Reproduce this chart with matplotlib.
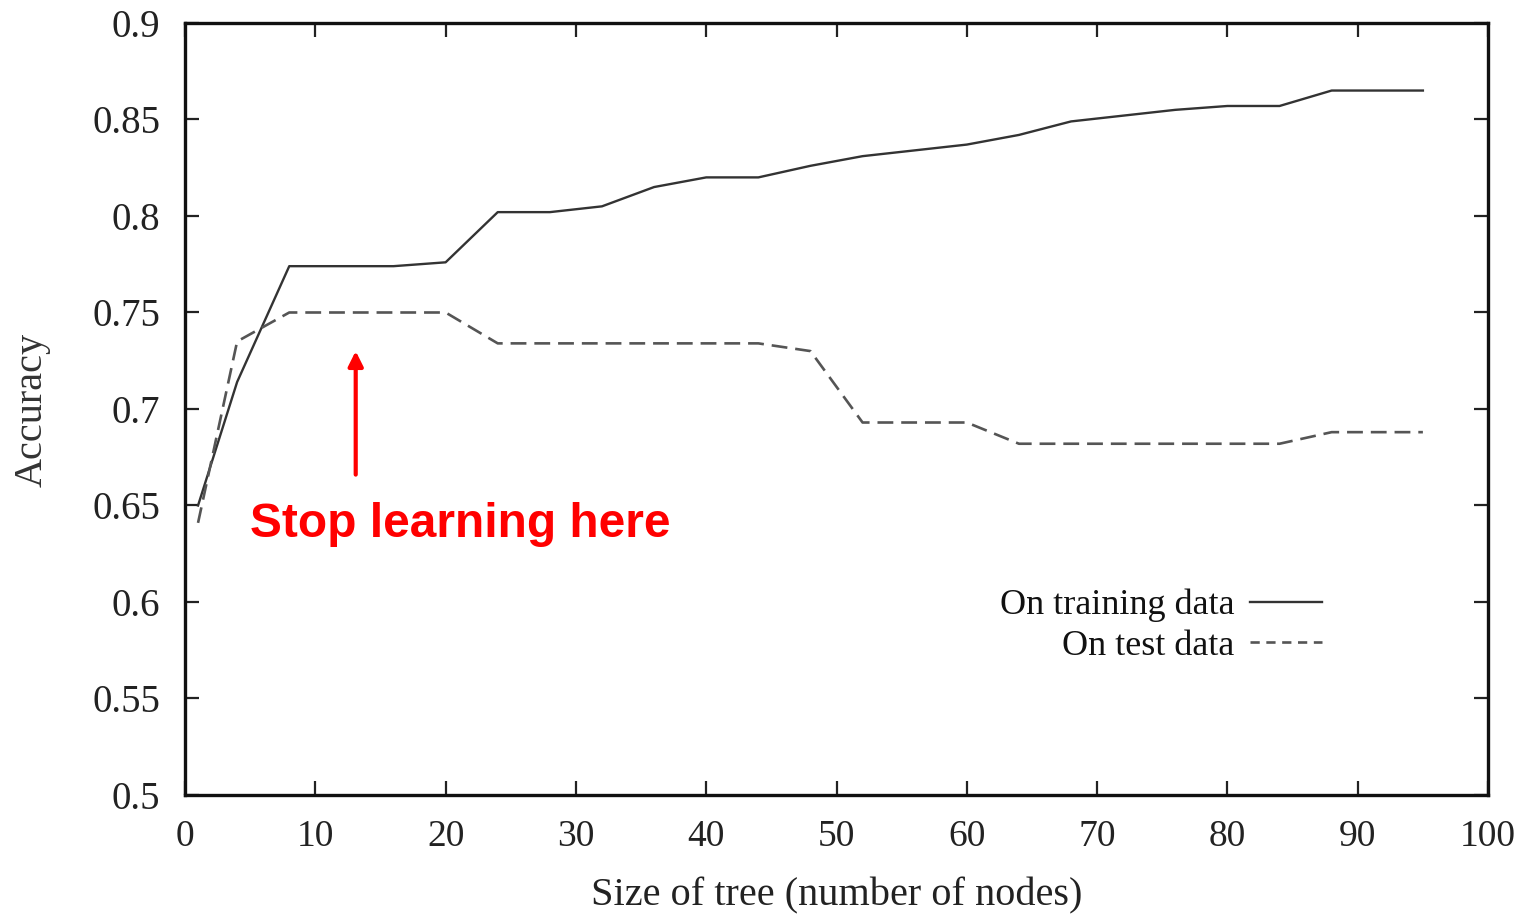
import matplotlib.pyplot as plt

# Accuracy vs tree size (number of nodes)
tree_size = [1, 4, 8, 12, 16, 20, 24, 28, 32, 36, 40, 44, 48, 52, 56, 60,
             64, 68, 72, 76, 80, 84, 88, 92, 95]
train_acc = [0.650, 0.714, 0.774, 0.774, 0.774, 0.776, 0.802, 0.802, 0.805,
             0.815, 0.820, 0.820, 0.826, 0.831, 0.834, 0.837, 0.842, 0.849,
             0.852, 0.855, 0.857, 0.857, 0.865, 0.865, 0.865]
test_acc = [0.641, 0.735, 0.750, 0.750, 0.750, 0.750, 0.734, 0.734, 0.734,
            0.734, 0.734, 0.734, 0.730, 0.693, 0.693, 0.693, 0.682, 0.682,
            0.682, 0.682, 0.682, 0.682, 0.688, 0.688, 0.688]

x_ticks = list(range(0, 101, 10))
y_ticks = [0.5, 0.55, 0.6, 0.65, 0.7, 0.75, 0.8, 0.85, 0.9]
y_tick_labels = ['0.5', '0.55', '0.6', '0.65', '0.7', '0.75', '0.8', '0.85', '0.9']

serif = 'Liberation Serif'

fig = plt.figure(figsize=(15.24, 9.16), dpi=100)
ax = fig.add_axes([0.1214, 0.1321, 0.855, 0.8428])

ax.plot(tree_size, train_acc, color='#333333', lw=1.7, label='On training data')
ax.plot(tree_size, test_acc, color='#555555', lw=1.9, dashes=(6, 3),
        label='On test data')

ax.set_xlim(0, 100)
ax.set_ylim(0.5, 0.9)
ax.set_xticks(x_ticks)
ax.set_yticks(y_ticks)
ax.set_yticklabels(y_tick_labels)

ax.tick_params(direction='in', length=10, width=1.6, top=True, right=True,
               colors='#222222')
ax.tick_params(axis='x', pad=18)
ax.tick_params(axis='y', pad=18)
for lbl in ax.get_xticklabels():
    lbl.set_fontfamily(serif)
    lbl.set_fontsize(27)
for lbl in ax.get_yticklabels():
    lbl.set_fontfamily(serif)
    lbl.set_fontsize(28)

for sp in ax.spines.values():
    sp.set_linewidth(2.4)
    sp.set_color('#111111')

ax.set_xlabel('Size of tree (number of nodes)', family=serif, fontsize=29,
              color='#222222', va='center')
ax.xaxis.set_label_coords(0.5, -0.131)
ax.set_ylabel('Accuracy', family=serif, fontsize=29, color='#333333',
              va='center')
ax.yaxis.set_label_coords(-0.117, 0.499)

leg = ax.legend(loc='center right', bbox_to_anchor=(0.8726, 0.219),
                markerfirst=False, frameon=False, handlelength=2.0,
                handletextpad=0.42, labelspacing=0.2, borderpad=0,
                borderaxespad=0, prop={'family': serif, 'size': 26})
for t in leg.get_texts():
    t.set_ha('right')
    t.set_color('#111111')
# shorter dashes for the legend sample of the test line
leg.get_lines()[1].set_dashes((3.5, 2.5))

# red note pointing at the point where test accuracy peaks
ax.annotate('', xy=(13.1, 0.730), xytext=(13.1, 0.666),
            arrowprops=dict(arrowstyle='-|>', color='red', lw=3,
                            mutation_scale=22, shrinkA=0, shrinkB=0))
ax.text(5.0, 0.640, 'Stop learning here', color='red', fontsize=34.5,
        fontweight='bold', family='Liberation Sans', va='center', ha='left')

fig.savefig('out.png', dpi=100)
